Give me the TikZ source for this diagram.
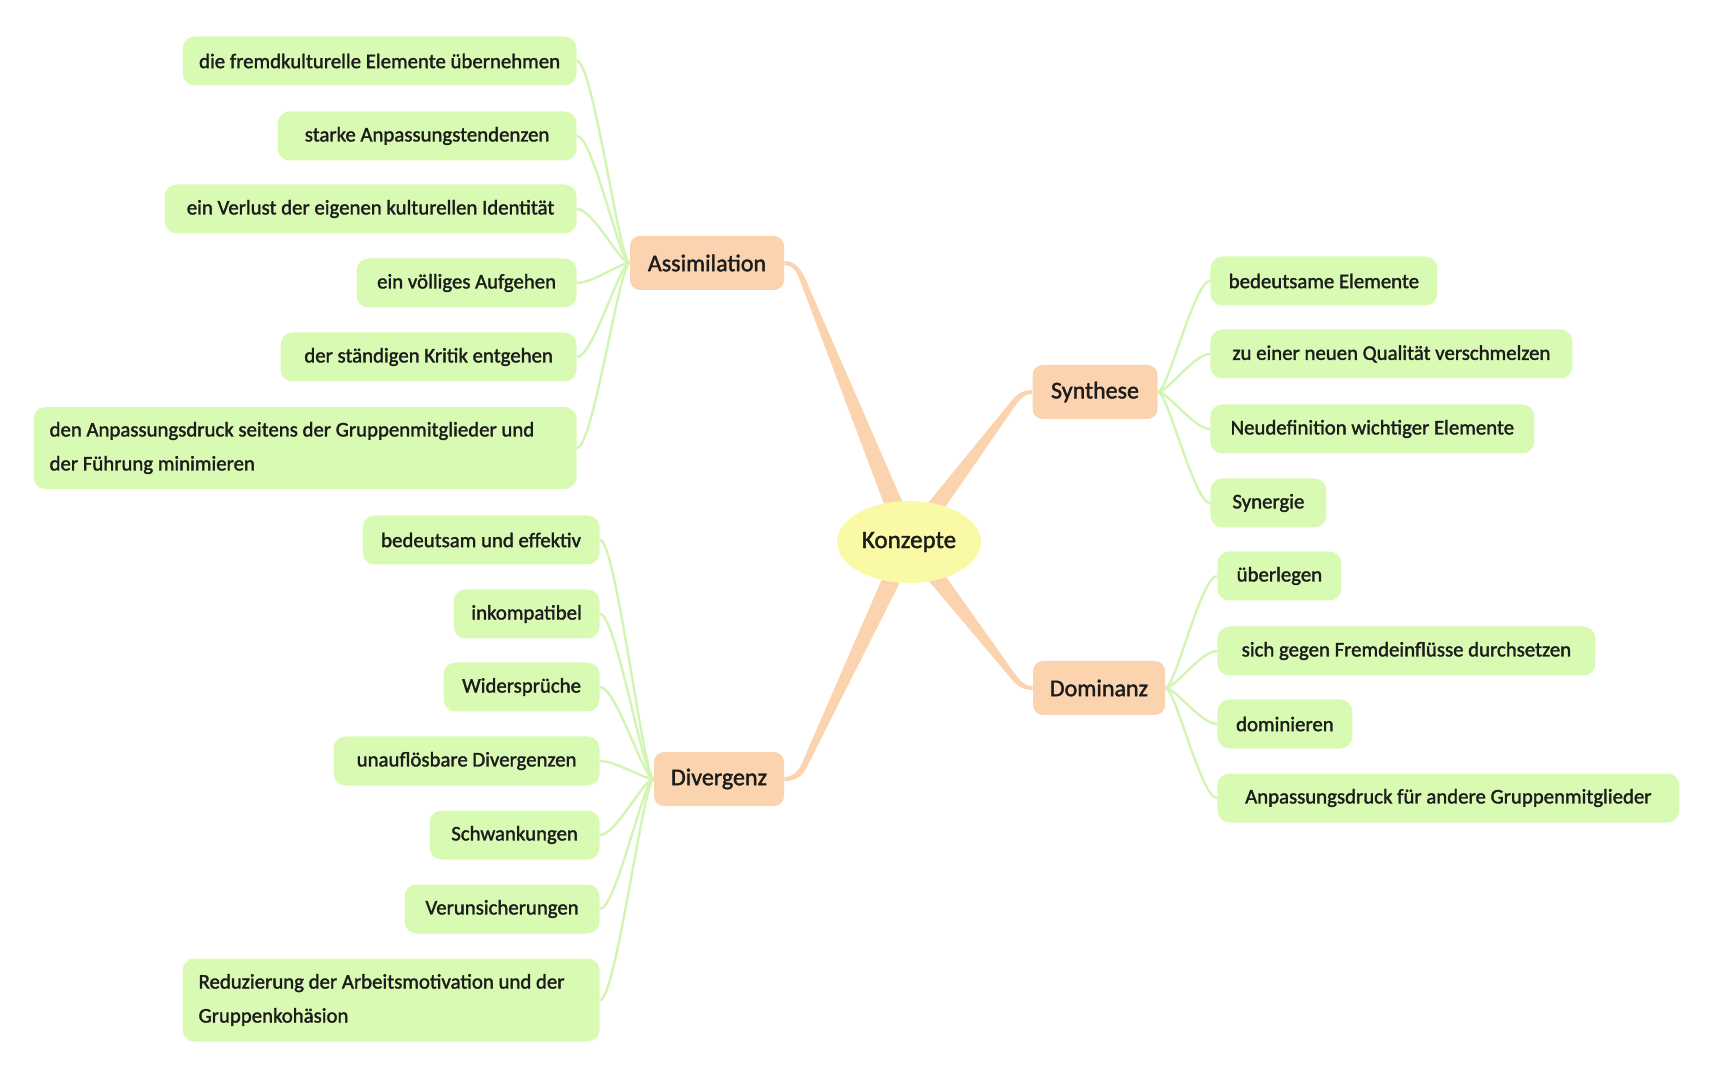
\documentclass[tikz,border=0pt]{standalone}
\usepackage{fontspec}
\setmainfont{Carlito}[FakeBold=1.6]
\usetikzlibrary{calc,backgrounds,shapes.geometric}

\definecolor{leafgreen}{HTML}{D8FAB2}
\definecolor{linegreen}{HTML}{D2F5B4}
\definecolor{peach}{HTML}{FCD3AF}
\definecolor{lemon}{HTML}{FAF9A6}
\definecolor{ink}{HTML}{1C1C1C}

\tikzset{
  leaf/.style={fill=leafgreen, rounded corners=6pt, minimum height=24.5pt, inner xsep=8pt,
    text=ink, font=\fontsize{10.4}{17}\selectfont},
  topic/.style={fill=peach, rounded corners=5pt, minimum height=27pt,
    text=ink, font=\fontsize{12}{14}\selectfont},
  core/.style={ellipse, fill=lemon, minimum width=72pt, minimum height=41pt, inner sep=0pt,
    text=ink, font=\fontsize{12.5}{15}\selectfont},
  twig/.style={draw=linegreen, line width=1.2pt, out distance=5pt, in distance=8pt},
  bough/.style={fill=peach},
}

\begin{document}
\begin{tikzpicture}[x=0.5pt, y=0.5pt]
    \useasboundingbox (0,0) rectangle (1714,-1079);

    % Centre and topics
    \node[core] (konz) at (909,-542) {Konzepte};
    \node[topic, minimum width=77pt] (asm) at (707,-263) {Assimilation};
    \node[topic, minimum width=62.5pt] (syn) at (1095,-392) {Synthese};
    \node[topic, minimum width=66pt] (dom) at (1099,-688) {Dominanz};
    \node[topic, minimum width=65pt] (div) at (719,-779) {Divergenz};

    % Assimilation leaves
    \node[leaf, anchor=east, minimum width=197pt] (a1) at (577,-61) {die fremdkulturelle Elemente übernehmen};
    \node[leaf, anchor=east, minimum width=149.5pt] (a2) at (577,-136) {starke Anpassungstendenzen};
    \node[leaf, anchor=east, minimum width=206pt] (a3) at (577,-209) {ein Verlust der eigenen kulturellen Identität};
    \node[leaf, anchor=east, minimum width=110pt] (a4) at (577,-283) {ein völliges Aufgehen};
    \node[leaf, anchor=east, minimum width=148pt] (a5) at (577,-357) {der ständigen Kritik entgehen};
    \node[leaf, anchor=east, text width=255.5pt, minimum height=41pt, align=flush left] (a6) at (577,-448)
        {den Anpassungsdruck seitens der Gruppenmitglieder und\\der Führung minimieren};

    % Divergenz leaves
    \node[leaf, anchor=east, minimum width=118.5pt] (d1) at (600,-540) {bedeutsam und effektiv};
    \node[leaf, anchor=east, minimum width=73pt] (d2) at (600,-614) {inkompatibel};
    \node[leaf, anchor=east, minimum width=78pt] (d3) at (600,-687) {Widersprüche};
    \node[leaf, anchor=east, minimum width=133pt] (d4) at (600,-761) {unauflösbare Divergenzen};
    \node[leaf, anchor=east, minimum width=85pt] (d5) at (600,-835) {Schwankungen};
    \node[leaf, anchor=east, minimum width=97.5pt] (d6) at (600,-909) {Verunsicherungen};
    \node[leaf, anchor=east, text width=192.5pt, minimum height=41.5pt, align=flush left] (d7) at (600,-1000)
        {Reduzierung der Arbeitsmotivation und der\\Gruppenkohäsion};

    % Synthese leaves
    \node[leaf, anchor=west, minimum width=113.5pt] (s1) at (1210,-281) {bedeutsame Elemente};
    \node[leaf, anchor=west, minimum width=181pt] (s2) at (1210,-354) {zu einer neuen Qualität verschmelzen};
    \node[leaf, anchor=west, minimum width=162pt] (s3) at (1210,-429) {Neudefinition wichtiger Elemente};
    \node[leaf, anchor=west, minimum width=58pt] (s4) at (1210,-503) {Synergie};

    % Dominanz leaves
    \node[leaf, anchor=west, minimum width=62pt] (m1) at (1217,-576) {überlegen};
    \node[leaf, anchor=west, minimum width=189pt] (m2) at (1217,-651) {sich gegen Fremdeinflüsse durchsetzen};
    \node[leaf, anchor=west, minimum width=67.5pt] (m3) at (1217,-724) {dominieren};
    \node[leaf, anchor=west, minimum width=231pt] (m4) at (1217,-798) {Anpassungsdruck für andere Gruppenmitglieder};

    \begin{scope}[on background layer]
    % Branches from the centre
    \coordinate (b1) at (806,-288);
    \fill[bough] ($(asm.east)+(0,1pt)$) to[out=0,in=112] ($(b1)!1.5pt!90:(konz.center)$)
        -- ($(konz.center)!5pt!-90:(b1)$) -- ($(konz.center)!5pt!90:(b1)$)
        -- ($(b1)!1.5pt!-90:(konz.center)$) to[out=112,in=0] ($(asm.east)+(0,-1pt)$) -- cycle;
    \coordinate (b2) at (1012,-405);
    \fill[bough] ($(syn.west)+(0,1pt)$) to[out=180,in=53] ($(b2)!1.5pt!-90:(konz.center)$)
        -- ($(konz.center)!5pt!90:(b2)$) -- ($(konz.center)!5pt!-90:(b2)$)
        -- ($(b2)!1.5pt!90:(konz.center)$) to[out=53,in=180] ($(syn.west)+(0,-1pt)$) -- cycle;
    \coordinate (b3) at (1012,-675);
    \fill[bough] ($(dom.west)+(0,-1pt)$) to[out=180,in=-52] ($(b3)!1.5pt!90:(konz.center)$)
        -- ($(konz.center)!5pt!-90:(b3)$) -- ($(konz.center)!5pt!90:(b3)$)
        -- ($(b3)!1.5pt!-90:(konz.center)$) to[out=-52,in=180] ($(dom.west)+(0,1pt)$) -- cycle;
    \coordinate (b4) at (804,-766);
    \fill[bough] ($(div.east)+(0,-1pt)$) to[out=0,in=245] ($(b4)!1.5pt!-90:(konz.center)$)
        -- ($(konz.center)!5pt!90:(b4)$) -- ($(konz.center)!5pt!-90:(b4)$)
        -- ($(b4)!1.5pt!90:(konz.center)$) to[out=245,in=0] ($(div.east)+(0,1pt)$) -- cycle;

    % Twigs to the leaves
    \draw[twig] (asm.west) to[out=180,in=0] (a1.east);
    \draw[twig] (asm.west) to[out=180,in=0] (a2.east);
    \draw[twig] (asm.west) to[out=180,in=0] (a3.east);
    \draw[twig] (asm.west) to[out=180,in=0] (a4.east);
    \draw[twig] (asm.west) to[out=180,in=0] (a5.east);
    \draw[twig] (asm.west) to[out=180,in=0] (a6.east);

    \draw[twig] (div.west) to[out=180,in=0] (d1.east);
    \draw[twig] (div.west) to[out=180,in=0] (d2.east);
    \draw[twig] (div.west) to[out=180,in=0] (d3.east);
    \draw[twig] (div.west) to[out=180,in=0] (d4.east);
    \draw[twig] (div.west) to[out=180,in=0] (d5.east);
    \draw[twig] (div.west) to[out=180,in=0] (d6.east);
    \draw[twig] (div.west) to[out=180,in=0] (d7.east);

    \draw[twig] (syn.east) to[out=0,in=180] (s1.west);
    \draw[twig] (syn.east) to[out=0,in=180] (s2.west);
    \draw[twig] (syn.east) to[out=0,in=180] (s3.west);
    \draw[twig] (syn.east) to[out=0,in=180] (s4.west);

    \draw[twig] (dom.east) to[out=0,in=180] (m1.west);
    \draw[twig] (dom.east) to[out=0,in=180] (m2.west);
    \draw[twig] (dom.east) to[out=0,in=180] (m3.west);
    \draw[twig] (dom.east) to[out=0,in=180] (m4.west);
    \end{scope}
\end{tikzpicture}
\end{document}
